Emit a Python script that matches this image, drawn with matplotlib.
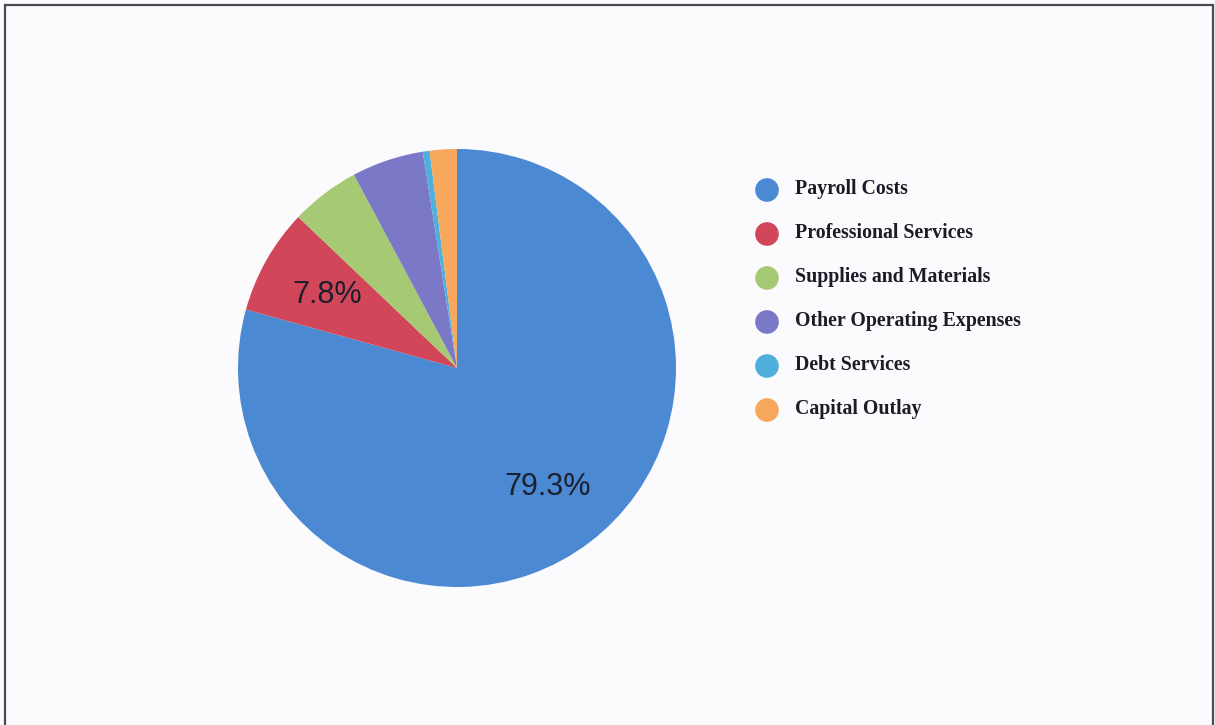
import matplotlib
matplotlib.use('Agg')
import matplotlib.pyplot as plt
from matplotlib.patches import Rectangle

# expenditure shares by category (percent)
categories = ['Payroll Costs', 'Professional Services', 'Supplies and Materials',
              'Other Operating Expenses', 'Debt Services', 'Capital Outlay']
shares = [79.3, 7.8, 5.1, 5.3, 0.5, 2.0]
colors = ['#4b89d3', '#d24659', '#a6ca74', '#7b78c8', '#4fb0dc', '#f7a85c']

fig = plt.figure(figsize=(12.15, 7.25), dpi=100)
fig.patch.set_facecolor('#fbfbfd')

W, H = 1215.0, 725.0

# frame around the page
frame = Rectangle((5 / W, -0.01), 1208 / W, (H - 5) / H + 0.01, transform=fig.transFigure,
                  fill=False, edgecolor='#4a4a55', linewidth=1.6)
fig.add_artist(frame)

ax = fig.add_axes([238 / W, 138 / H, 438 / W, 438 / H])
ax.set_facecolor('none')


def fmt(p):
    return '%.1f%%' % p if p > 6 else ''


wedges, texts, autotexts = ax.pie(shares, colors=colors, startangle=90, counterclock=False,
                                  autopct=fmt, pctdistance=0.68,
                                  wedgeprops=dict(linewidth=0),
                                  textprops=dict(fontsize=22, family='Liberation Sans',
                                                 color='#1c1f2e'))
ax.set_xlim(-1, 1)
ax.set_ylim(-1, 1)
ax.set_aspect('equal')
ax.axis('off')

# legend drawn on an overlay in pixel units
lg = fig.add_axes([0, 0, 1, 1])
lg.set_xlim(0, W)
lg.set_ylim(H, 0)
lg.axis('off')
lg.patch.set_alpha(0)
for i, (name, c) in enumerate(zip(categories, colors)):
    y = 190 + i * 44
    lg.scatter([767], [y], s=290, color=c, edgecolors='none')
    lg.text(795, y - 1, name, fontsize=14.3, fontweight='bold', family='Liberation Serif',
            color='#1c1c28', va='center', ha='left')

fig.savefig('out.png', dpi=100, facecolor=fig.get_facecolor())
